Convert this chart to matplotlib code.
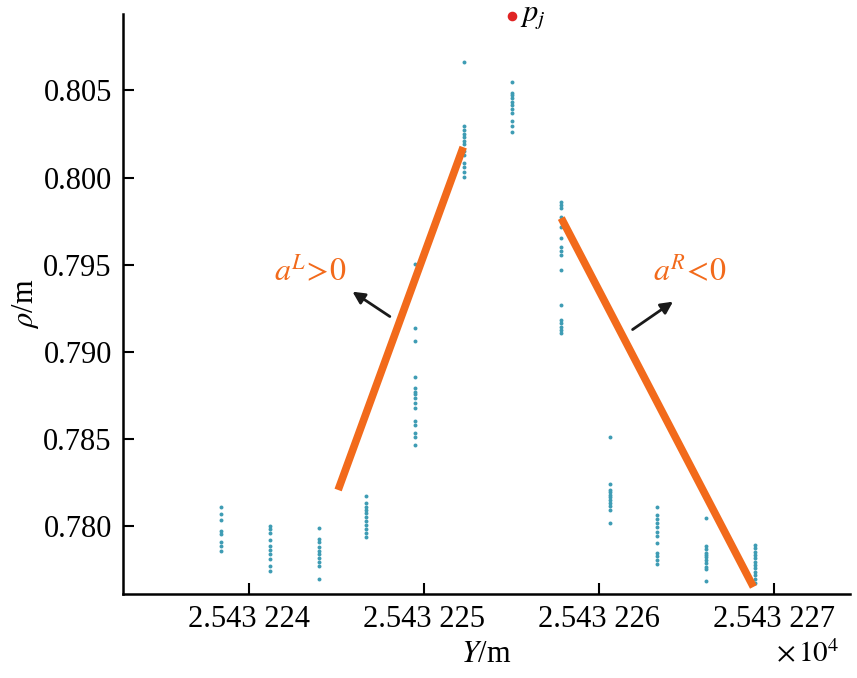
import numpy as np
import matplotlib
matplotlib.use("Agg")
import matplotlib.pyplot as plt

# === DATA (Y in units of 1e4 m, rho in m) ===
col_y = [2.54322384, 2.54322412, 2.54322440, 2.54322467, 2.54322495, 2.54322523,
         2.54322550, 2.54322578, 2.54322606, 2.54322633, 2.54322661, 2.54322689]
col_rho = [
    [0.78112, 0.78072, 0.78037, 0.77974, 0.77957, 0.77911, 0.77888, 0.77860],
    [0.78003, 0.77986, 0.77963, 0.77923, 0.77888, 0.77865, 0.77843, 0.77814, 0.77774, 0.77745],
    [0.77992, 0.77928, 0.77911, 0.77883, 0.77860, 0.77843, 0.77820, 0.77797, 0.77774, 0.77699],
    [0.78175, 0.78135, 0.78112, 0.78095, 0.78078, 0.78055, 0.78032, 0.78009, 0.77986, 0.77963, 0.77940],
    [0.79504, 0.79138, 0.79063, 0.78857, 0.78794, 0.78771, 0.78759, 0.78736, 0.78708, 0.78679,
     0.78605, 0.78582, 0.78536, 0.78513, 0.78467],
    [0.80662, 0.80295, 0.80272, 0.80249, 0.80232, 0.80209, 0.80192, 0.80150, 0.80130,
     0.80083, 0.80060, 0.80031, 0.80003],
    [0.80547, 0.80484, 0.80473, 0.80455, 0.80433, 0.80415, 0.80392, 0.80369, 0.80324, 0.80295, 0.80261],
    [0.79860, 0.79842, 0.79825, 0.79774, 0.79716, 0.79653, 0.79602, 0.79579, 0.79556, 0.79470,
     0.79269, 0.79183, 0.79166, 0.79143, 0.79126, 0.79109],
    [0.78513, 0.78244, 0.78209, 0.78198, 0.78181, 0.78169, 0.78152, 0.78135, 0.78118, 0.78095, 0.78020],
    [0.78112, 0.78066, 0.78043, 0.78020, 0.77997, 0.77969, 0.77946, 0.77906, 0.77848, 0.77831,
     0.77808, 0.77785],
    [0.78049, 0.77888, 0.77871, 0.77848, 0.77837, 0.77825, 0.77808, 0.77791, 0.77768, 0.77757, 0.77688],
    [0.77894, 0.77877, 0.77854, 0.77837, 0.77820, 0.77797, 0.77780, 0.77763, 0.77740, 0.77723,
     0.77700, 0.77677],
]

left_fit_y = [2.5432245086, 2.5432252229]
left_fit_rho = [0.78209, 0.80175]
right_fit_y = [2.5432257829, 2.54322688]
right_fit_rho = [0.79768, 0.77653]

pj_y, pj_rho = 2.54322550, 0.80925

x_ticks = [2.543224, 2.543225, 2.543226, 2.543227]
x_tick_labels = ["2.543 224", "2.543 225", "2.543 226", "2.543 227"]
y_ticks = [0.780, 0.785, 0.790, 0.795, 0.800, 0.805]
y_tick_labels = ["0.780", "0.785", "0.790", "0.795", "0.800", "0.805"]

# === STYLE ===
plt.rcParams["font.family"] = ["Liberation Serif", "DejaVu Serif"]
plt.rcParams["mathtext.fontset"] = "stix"

orange = "#F26A1B"
dot_color = "#3E9CB4"

fig = plt.figure(figsize=(8.57, 6.78), dpi=100)
ax = fig.add_axes([0.1435, 0.124, 0.848, 0.855])

for xv, ys in zip(col_y, col_rho):
    ax.scatter([xv] * len(ys), ys, s=8, color=dot_color, linewidths=0, zorder=2)

ax.plot(left_fit_y, left_fit_rho, color=orange, lw=5.5, solid_capstyle="butt", zorder=3)
ax.plot(right_fit_y, right_fit_rho, color=orange, lw=5.5, solid_capstyle="butt", zorder=3)

ax.scatter([pj_y], [pj_rho], s=35, color="#E02424", zorder=4, clip_on=False)
ax.text(pj_y + 0.00000005, pj_rho, r"$p_j$", fontsize=22, va="center", ha="left")

# annotations
ax.annotate("", xy=(2.5432245771, 0.79355), xytext=(2.5432248171, 0.79195),
            arrowprops=dict(arrowstyle="-|>", color="#1a1a1a", lw=2, mutation_scale=18))
ax.annotate("", xy=(2.543226434, 0.79298), xytext=(2.543226177, 0.79120),
            arrowprops=dict(arrowstyle="-|>", color="#1a1a1a", lw=2, mutation_scale=18))
ax.text(2.5432243486, 0.79458, r"$a^{L}\!>\!0$", color=orange, fontsize=23,
        ha="center", va="center")
ax.text(2.54322652, 0.79458, r"$a^{R}\!<\!0$", color=orange, fontsize=23,
        ha="center", va="center")

ax.set_xlim(2.54322328, 2.54322743)
ax.set_ylim(0.77613, 0.80937)
ax.set_xticks(x_ticks)
ax.set_xticklabels(x_tick_labels)
ax.set_yticks(y_ticks)
ax.set_yticklabels(y_tick_labels)
ax.tick_params(direction="in", length=8, width=1.5, labelsize=22, pad=8)

for side in ["top", "right"]:
    ax.spines[side].set_visible(False)
for side in ["left", "bottom"]:
    ax.spines[side].set_linewidth(1.8)

ax.set_xlabel(r"$Y$/m", fontsize=22, labelpad=4)
ax.set_ylabel(r"$\rho$/m", fontsize=22, labelpad=2)
fig.text(0.943, 0.035, r"$\times\,10^{4}$", fontsize=21, ha="center", va="center")

plt.savefig("out.png", dpi=100)
